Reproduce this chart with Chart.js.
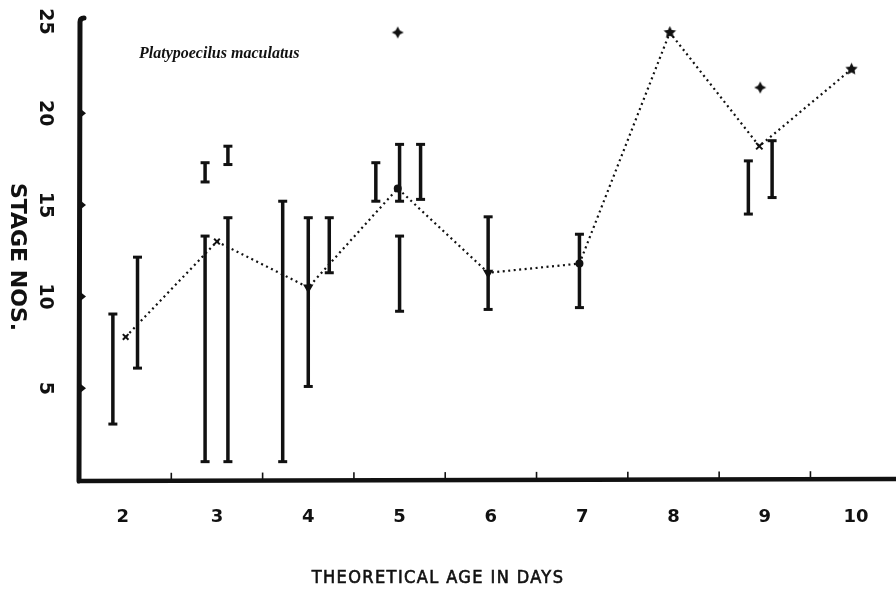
<!DOCTYPE html>
<html lang="en">
<head>
    <meta charset="UTF-8">
    <title>Platypoecilus maculatus - stage vs age</title>
    <script src="https://cdn.jsdelivr.net/npm/chart.js"></script>
    <style>
        body { margin: 0; background: #fff; }
        canvas { display: block; }
    </style>
</head>
<body>
    <canvas id="stageChart" width="896" height="601"></canvas>

    <script>
        // days shown on the x axis and stage ticks on the y axis
        const dayLabels = [2, 3, 4, 5, 6, 7, 8, 9, 10];
        const stageTicks = [5, 10, 15, 20, 25];

        // mean stage for each day (dotted line)
        const meanDay = [2, 3, 4, 4.98, 5.97, 6.97, 7.96, 8.94, 9.95];
        const meanStage = [7.8, 13.0, 10.5, 15.9, 11.3, 11.8, 24.4, 18.2, 22.4];

        // observed ranges (vertical bars)
        const rangeDay  = [1.86, 2.13, 2.87, 2.87, 3.12, 3.12, 3.72, 4.0, 4.23, 4.74, 5.0, 5.0, 5.23, 5.97, 6.97, 8.82, 9.08];
        const rangeLow  = [3.05, 6.1, 1.0, 16.25, 1.0, 17.2, 1.0, 5.1, 11.3, 15.2, 15.2, 9.2, 15.3, 9.3, 9.4, 14.5, 15.4];
        const rangeHigh = [9.05, 12.15, 13.3, 17.3, 14.3, 18.2, 15.2, 14.3, 14.3, 17.3, 18.3, 13.3, 18.3, 14.35, 13.4, 17.4, 18.5];

        // single outlying observations
        const extraDay = [4.98, 8.95];
        const extraStage = [24.4, 21.4];

        const ink = "#111";

        function starImage(spikes, outer, inner) {
            const size = outer * 2 + 2;
            const c = document.createElement("canvas");
            c.width = size; c.height = size;
            const g = c.getContext("2d");
            g.translate(size / 2, size / 2);
            g.beginPath();
            for (let i = 0; i < spikes * 2; i++) {
                const r = i % 2 === 0 ? outer : inner;
                const a = -Math.PI / 2 + i * Math.PI / spikes;
                g.lineTo(Math.cos(a) * r, Math.sin(a) * r);
            }
            g.closePath();
            g.fillStyle = ink;
            g.fill();
            return c;
        }
        const star5 = starImage(5, 6.5, 3.2);
        const star4 = starImage(4, 6, 3);

        const rangePoints = [];
        rangeDay.forEach((d, i) => {
            rangePoints.push({ x: d, y: rangeLow[i] });
            rangePoints.push({ x: d, y: rangeHigh[i] });
            rangePoints.push({ x: d, y: null });
        });

        const meanPoints = meanDay.map((d, i) => ({ x: d, y: meanStage[i] }));
        const extraPoints = extraDay.map((d, i) => ({ x: d, y: extraStage[i] }));

        // axes, ticks and all the lettering
        const paperAxes = {
            id: "paperAxes",
            afterDraw(chart) {
                const ctx = chart.ctx;
                const xs = chart.scales.x, ys = chart.scales.y;
                const area = chart.chartArea;
                ctx.save();
                ctx.strokeStyle = ink;
                ctx.fillStyle = ink;

                // y axis line with small hook at the top
                ctx.lineWidth = 5;
                ctx.lineCap = "round";
                ctx.beginPath();
                ctx.moveTo(area.left + 4, area.top);
                ctx.quadraticCurveTo(area.left, area.top, area.left, area.top + 4);
                ctx.lineTo(area.left - 1, area.bottom + 1);
                ctx.stroke();

                // x axis line
                ctx.lineWidth = 4.5;
                ctx.lineCap = "butt";
                ctx.beginPath();
                ctx.moveTo(area.left - 3, area.bottom + 1);
                ctx.lineTo(area.right, area.bottom - 1);
                ctx.stroke();

                // x tick marks between the days
                ctx.lineWidth = 1.6;
                for (let d = 2.5; d < 10; d += 1) {
                    const px = xs.getPixelForValue(d);
                    const base = area.bottom - 2 * (px - area.left) / (area.right - area.left);
                    ctx.beginPath();
                    ctx.moveTo(px, base);
                    ctx.lineTo(px, base - 7);
                    ctx.stroke();
                }

                // y tick nubs
                stageTicks.slice(0, 4).forEach(v => {
                    const py = ys.getPixelForValue(v);
                    ctx.beginPath();
                    ctx.moveTo(area.left + 1, py - 4);
                    ctx.lineTo(area.left + 6, py);
                    ctx.lineTo(area.left + 1, py + 4);
                    ctx.closePath();
                    ctx.fill();
                });

                // x labels
                ctx.font = "bold 18px 'DejaVu Sans', sans-serif";
                ctx.textAlign = "center";
                ctx.textBaseline = "middle";
                dayLabels.forEach(d => {
                    ctx.fillText(String(d), xs.getPixelForValue(d) - (d === 2 ? 3 : 0), 517);
                });

                // y labels, turned clockwise
                ctx.font = "bold 19px 'DejaVu Sans', sans-serif";
                stageTicks.forEach(v => {
                    ctx.save();
                    ctx.translate(45, ys.getPixelForValue(v));
                    ctx.rotate(Math.PI / 2);
                    ctx.fillText(String(v), 0, 0);
                    ctx.restore();
                });

                // y title
                ctx.save();
                ctx.translate(17, 257);
                ctx.rotate(Math.PI / 2);
                ctx.font = "bold 22px 'DejaVu Sans', sans-serif";
                ctx.fillText("STAGE NOS.", 0, 0);
                ctx.restore();

                // x title, spaced narrow lettering
                ctx.font = "18px 'Liberation Sans Narrow', 'DejaVu Sans Condensed', sans-serif";
                ctx.letterSpacing = "1.4px";
                ctx.lineWidth = 0.6;
                ctx.fillText("THEORETICAL AGE IN DAYS", 438, 578);
                ctx.strokeText("THEORETICAL AGE IN DAYS", 438, 578);
                ctx.letterSpacing = "0px";

                // species name
                ctx.font = "italic bold 16px 'Liberation Serif', serif";
                ctx.textAlign = "left";
                ctx.fillText("Platypoecilus maculatus", 139, 54);

                ctx.restore();
            }
        };

        new Chart(document.getElementById("stageChart"), {
            type: "line",
            data: {
                datasets: [
                    {
                        label: "mean",
                        data: meanPoints,
                        borderColor: ink,
                        backgroundColor: ink,
                        borderWidth: 2.2,
                        borderDash: [2, 3.5],
                        pointStyle: [ "crossRot", "crossRot", "triangle", "circle", "triangle", "circle", star5, "crossRot", star5 ],
                        pointRotation: [0, 0, 180, 0, 180, 0, 0, 0, 0],
                        pointRadius: [4, 4, 4, 3, 4, 3, 6, 4.5, 6],
                        pointBorderWidth: 2,
                        pointBackgroundColor: ink,
                        pointBorderColor: ink,
                        tension: 0
                    },
                    {
                        label: "range",
                        data: rangePoints,
                        borderColor: ink,
                        borderWidth: 3.5,
                        spanGaps: false,
                        pointStyle: "line",
                        pointRadius: 4.5,
                        pointBorderWidth: 3,
                        pointBorderColor: ink,
                        tension: 0
                    },
                    {
                        label: "single",
                        data: extraPoints,
                        showLine: false,
                        pointStyle: star4,
                        pointRadius: 6
                    }
                ]
            },
            options: {
                responsive: false,
                animation: false,
                layout: { autoPadding: false, padding: { left: 80, right: 0, top: 18, bottom: 121 } },
                plugins: { legend: { display: false }, tooltip: { enabled: false } },
                scales: {
                    x: { type: "linear", min: 1.5, max: 10.437, display: false },
                    y: { type: "linear", min: 0, max: 25.19, display: false }
                }
            },
            plugins: [paperAxes]
        });
    </script>
</body>
</html>
